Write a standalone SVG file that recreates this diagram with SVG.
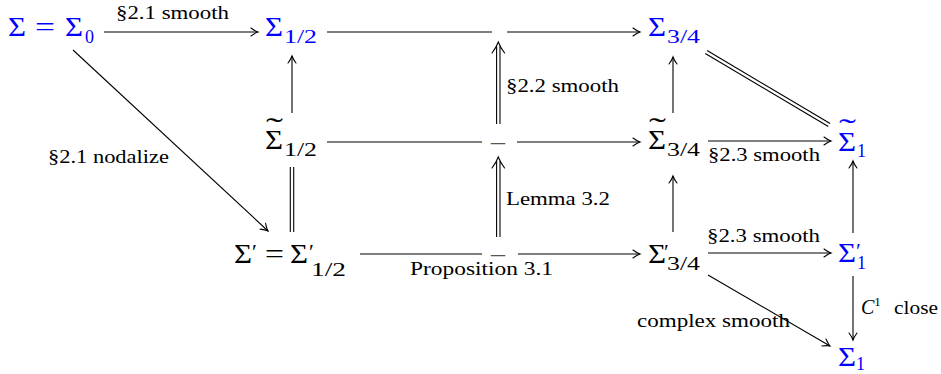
<svg xmlns="http://www.w3.org/2000/svg" width="941" height="374" viewBox="0 0 941 374">
<style>
.m{font-family:"Liberation Serif","Times New Roman",serif;font-size:27px;}
.s{font-family:"Liberation Serif","Times New Roman",serif;font-size:18px;}
.t{font-family:"Liberation Serif","Times New Roman",serif;font-size:30px;}
.p{font-family:"Liberation Serif","Times New Roman",serif;font-size:22px;}
.lb{font-family:"Liberation Serif","Times New Roman",serif;font-size:18px;fill:#000;}
.blue text{fill:#0000ff;}
.blk text{fill:#000;}
.dash{fill:#555;}
.c line,.c path{stroke:#000;stroke-width:1.1;fill:none;}
.hd{stroke:#000;stroke-width:1.1;fill:none;stroke-linecap:round;}
</style>
<defs>
<marker id="to" markerUnits="userSpaceOnUse" viewBox="-10 -6 12 12" markerWidth="12" markerHeight="12" refX="0" refY="0" orient="auto">
<path d="M-7,-4 Q-3,-1 0,0 Q-3,1 -7,4" class="hd"/>
</marker>
</defs>

<g id="n-sigma0" class="blue">
<text class="m" x="8" y="36" textLength="18" lengthAdjust="spacingAndGlyphs">Σ</text>
<text class="m" x="35" y="36" textLength="20" lengthAdjust="spacingAndGlyphs">=</text>
<text class="m" x="65" y="36" textLength="18" lengthAdjust="spacingAndGlyphs">Σ</text>
<text class="s" x="85" y="43">0</text>
</g>
<g id="n-sigma12" class="blue">
<text class="m" x="265" y="36" textLength="18" lengthAdjust="spacingAndGlyphs">Σ</text>
<text class="s" x="284" y="43" textLength="33" lengthAdjust="spacingAndGlyphs">1/2</text>
</g>
<g id="n-top-empty"></g>
<g id="n-sigma34" class="blue">
<text class="m" x="648" y="36" textLength="18" lengthAdjust="spacingAndGlyphs">Σ</text>
<text class="s" x="667" y="43" textLength="33" lengthAdjust="spacingAndGlyphs">3/4</text>
</g>
<g id="n-tsigma1" class="blue">
<text class="t" x="839" y="139" textLength="17" lengthAdjust="spacingAndGlyphs">˜</text>
<text class="m" x="838" y="151" textLength="18" lengthAdjust="spacingAndGlyphs">Σ</text>
<text class="s" x="857" y="157">1</text>
</g>

<g id="n-tsigma12" class="blk">
<text class="t" x="266" y="138" textLength="17" lengthAdjust="spacingAndGlyphs">˜</text>
<text class="m" x="265" y="149" textLength="18" lengthAdjust="spacingAndGlyphs">Σ</text>
<text class="s" x="284" y="156" textLength="33" lengthAdjust="spacingAndGlyphs">1/2</text>
</g>
<g id="n-mid-dash"><text class="m dash" x="491" y="150" textLength="14" lengthAdjust="spacingAndGlyphs">–</text></g>
<g id="n-tsigma34" class="blk">
<text class="t" x="649" y="138" textLength="17" lengthAdjust="spacingAndGlyphs">˜</text>
<text class="m" x="648" y="149" textLength="18" lengthAdjust="spacingAndGlyphs">Σ</text>
<text class="s" x="667" y="156" textLength="33" lengthAdjust="spacingAndGlyphs">3/4</text>
</g>

<g id="n-sigmaprime" class="blk">
<text class="m" x="234" y="263" textLength="18" lengthAdjust="spacingAndGlyphs">Σ</text>
<text class="p" x="252" y="259">′</text>
<text class="m" x="265" y="263" textLength="19" lengthAdjust="spacingAndGlyphs">=</text>
<text class="m" x="290" y="263" textLength="18" lengthAdjust="spacingAndGlyphs">Σ</text>
<text class="p" x="309" y="259">′</text>
<text class="s" x="311" y="276" textLength="35" lengthAdjust="spacingAndGlyphs">1/2</text>
</g>
<g id="n-bot-dash"><text class="m dash" x="491" y="262" textLength="14" lengthAdjust="spacingAndGlyphs">–</text></g>
<g id="n-sigmaprime34" class="blk">
<text class="m" x="648" y="263" textLength="18" lengthAdjust="spacingAndGlyphs">Σ</text>
<text class="p" x="664" y="259">′</text>
<text class="s" x="667" y="270" textLength="33" lengthAdjust="spacingAndGlyphs">3/4</text>
</g>
<g id="n-sigmaprime1" class="blue">
<text class="m" x="838" y="262" textLength="18" lengthAdjust="spacingAndGlyphs">Σ</text>
<text class="p" x="856" y="258">′</text>
<text class="s" x="857" y="269">1</text>
</g>
<g id="n-sigma1" class="blue">
<text class="m" x="838" y="366" textLength="18" lengthAdjust="spacingAndGlyphs">Σ</text>
<text class="s" x="856" y="370">1</text>
</g>

<g id="connectors" class="c">
<line x1="104" y1="32" x2="258" y2="32" marker-end="url(#to)"/>
<line x1="327" y1="32" x2="492" y2="32"/>
<line x1="507" y1="32" x2="640" y2="32" marker-end="url(#to)"/>
<line x1="73" y1="50" x2="268" y2="231" marker-end="url(#to)"/>
<line x1="292" y1="113" x2="292" y2="56" marker-end="url(#to)"/>
<line x1="290.3" y1="167" x2="290.3" y2="232"/>
<line x1="293.7" y1="167" x2="293.7" y2="232"/>
<line x1="327" y1="142" x2="482" y2="142"/>
<line x1="517" y1="142" x2="640" y2="142" marker-end="url(#to)"/>
<line x1="496.6" y1="124" x2="496.6" y2="46"/>
<line x1="500" y1="124" x2="500" y2="46"/>
<path class="hd" d="M492,53 Q496.5,47 498.3,42 Q500.1,47 504.6,53"/>
<line x1="496.6" y1="237" x2="496.6" y2="161"/>
<line x1="500" y1="237" x2="500" y2="161"/>
<path class="hd" d="M492,168 Q496.5,162 498.3,157 Q500.1,162 504.6,168"/>
<line x1="360" y1="254" x2="482" y2="254"/>
<line x1="518" y1="254" x2="640" y2="254" marker-end="url(#to)"/>
<line x1="673" y1="113" x2="673" y2="57" marker-end="url(#to)"/>
<line x1="673" y1="232" x2="673" y2="176" marker-end="url(#to)"/>
<line x1="707.1" y1="50.5" x2="830.1" y2="123.5"/>
<line x1="705.3" y1="53.5" x2="828.3" y2="126.5"/>
<line x1="708" y1="141" x2="831" y2="141" marker-end="url(#to)"/>
<line x1="708" y1="253" x2="831" y2="253" marker-end="url(#to)"/>
<line x1="853" y1="233" x2="853" y2="161" marker-end="url(#to)"/>
<line x1="853" y1="276" x2="853" y2="340" marker-end="url(#to)"/>
<line x1="708" y1="275" x2="830" y2="346" marker-end="url(#to)"/>
</g>

<g id="labels">
<text class="lb" x="116" y="19" textLength="113" lengthAdjust="spacingAndGlyphs">§2.1 smooth</text>
<text class="lb" x="48" y="163" textLength="121" lengthAdjust="spacingAndGlyphs">§2.1 nodalize</text>
<text class="lb" x="506" y="92" textLength="113" lengthAdjust="spacingAndGlyphs">§2.2 smooth</text>
<text class="lb" x="506" y="205" textLength="104" lengthAdjust="spacingAndGlyphs">Lemma 3.2</text>
<text class="lb" x="410" y="275" textLength="143" lengthAdjust="spacingAndGlyphs">Proposition 3.1</text>
<text class="lb" x="708" y="161" textLength="112" lengthAdjust="spacingAndGlyphs">§2.3 smooth</text>
<text class="lb" x="707" y="242" textLength="113" lengthAdjust="spacingAndGlyphs">§2.3 smooth</text>
<text class="lb" x="637" y="327" textLength="153" lengthAdjust="spacingAndGlyphs">complex smooth</text>
<text class="lb" x="861" y="314"><tspan font-style="italic" font-size="20">C</tspan><tspan font-size="13" dy="-8">1</tspan><tspan dy="8" x="894" textLength="44" lengthAdjust="spacingAndGlyphs">close</tspan></text>
</g>
</svg>
